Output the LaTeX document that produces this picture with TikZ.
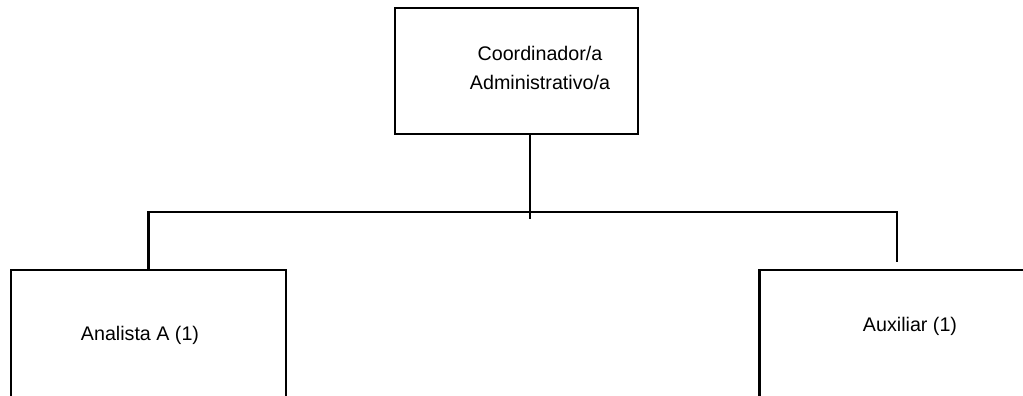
\documentclass[tikz,border=0pt]{standalone}
\usepackage{fontspec}
\setmainfont{Liberation Sans}
\usetikzlibrary{positioning}
\tikzset{unit/.style={rectangle,draw=black,line width=1.4pt,minimum width=55mm,minimum height=36mm,inner sep=0pt},
		head/.style={unit,minimum width=48.6mm,minimum height=25.2mm},
		tag/.style={font=\fontsize{11.2}{17}\selectfont,align=center,inner sep=0pt},
		link/.style={line width=1.4pt}}

\begin{document}
\begin{tikzpicture}
		\useasboundingbox (0,0) rectangle (20.46,-7.9);
		\clip (0,0) rectangle (20.46,-7.9);
		\node[head] (coord) at (10.33,-1.42) {};
		\node[tag] (coord-txt) at ([xshift=4.7mm,yshift=0.6mm]coord.center) {Coordinador/a\\Administrativo/a};
		\node[unit] (analista) at (2.97,-7.2) {};
		\node[tag] (analista-txt) at ([xshift=-1.7mm,yshift=-13.4mm]analista.north) {Analista A (1)};
		\node[unit] (auxiliar) at (17.94,-7.2) {};
		\node[tag] (auxiliar-txt) at ([xshift=2.6mm,yshift=-11.6mm]auxiliar.north) {Auxiliar (1)};

		\coordinate (bus) at ([xshift=2.7mm,yshift=-15.4mm]coord.south);
		\draw[link] ([xshift=2.7mm]coord.south) -- ([yshift=-1.4mm]bus);
		\draw[link] (analista.north) |- (bus) -| ([yshift=1.4mm]auxiliar.north);
%		\draw[link] (bus) -| (auxiliar.north);
	\end{tikzpicture}
\end{document}
